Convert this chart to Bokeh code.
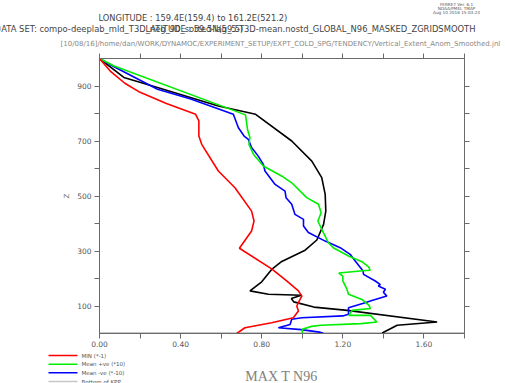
from bokeh.plotting import figure
from bokeh.models import FixedTicker, LinearAxis, PrintfTickFormatter, Range1d
from bokeh.core.properties import value
from bokeh.layouts import column
from bokeh.embed import file_html
from bokeh.resources import INLINE

# ---------------- data ----------------
red_x = [0.0, 0.056, 0.125, 0.20, 0.33, 0.474, 0.49, 0.49, 0.504, 0.586, 0.668, 0.75,
         0.762, 0.75, 0.69, 0.849, 0.923, 0.981, 0.998, 0.989, 0.973, 0.981, 0.956,
         0.849, 0.717, 0.677]
red_z = [1000, 952, 910, 877, 836, 797, 773, 718, 688, 591, 530, 445,
         409, 373, 310, 235, 191, 155, 136, 124, 100, 82, 57,
         39, 21, 0]

green_x = [0.0, 0.072, 0.72, 0.73, 0.742, 0.737, 0.759, 0.808, 0.90, 0.948, 1.022, 1.08,
           1.093, 1.077, 1.104, 1.129, 1.153, 1.228, 1.294, 1.327, 1.335, 1.30, 1.18,
           1.20, 1.20, 1.22, 1.228, 1.294, 1.328, 1.336, 1.246, 1.23, 1.336, 1.368,
           1.29, 1.09, 1.047, 1.0, 1.0]
green_z = [1000, 973, 795, 742, 712, 688, 652, 609, 572, 548, 494, 470,
           439, 409, 367, 330, 312, 282, 261, 242, 230, 228, 220,
           209, 191, 161, 143, 124, 103, 91, 84, 66, 66, 42,
           36, 30, 26, 15, 0]

blue_x = [0.0, 0.072, 0.286, 0.45, 0.66, 0.685, 0.713, 0.734, 0.75, 0.783, 0.808, 0.816,
          0.866, 0.915, 0.92, 0.948, 0.964, 1.006, 1.006, 1.03, 1.113, 1.187, 1.236,
          1.261, 1.30, 1.302, 1.36, 1.385, 1.375, 1.41, 1.40, 1.417, 1.343, 1.31,
          1.228, 1.228, 1.20, 0.998, 0.948, 0.94, 0.882, 0.995, 1.085, 1.105]
blue_z = [1000, 970, 888, 853, 797, 748, 718, 706, 676, 645, 615, 591,
          542, 518, 494, 470, 433, 415, 391, 367, 336, 312, 288,
          264, 227, 215, 191, 178, 173, 161, 150, 136, 120, 112,
          94, 70, 64, 57, 52, 33, 21, 14, 5, 0]

black_x = [0.0, 0.12, 0.29, 0.586, 0.77, 0.948, 1.047, 1.096, 1.113, 1.116, 1.105, 1.072,
           1.014, 0.899, 0.849, 0.80, 0.742, 0.833, 0.995, 0.946, 0.958, 1.057, 1.222,
           1.665, 1.468, 1.394]
black_z = [1000, 931, 894, 827, 797, 700, 627, 567, 506, 445, 397, 340,
           303, 262, 233, 188, 155, 143, 139, 127, 115, 96, 84,
           42, 30, 2]

kpp_x = [0.0, 1.8]
kpp_z = [3, 3]

x_major = [0.0, 0.4, 0.8, 1.2, 1.6]
x_minor = [0.2, 0.6, 1.0, 1.4, 1.8]
y_major = [100, 300, 500, 700, 900]
y_minor = [200, 400, 600, 800]

legend_labels = ["MIN (*-1)", "Mean +ve (*10)", "Mean -ve (*-10)", "Bottom of KPP"]
legend_colors = ["#ff0000", "#00ee00", "#0000ff", "#c8c8c8"]

title_lon = "LONGITUDE : 159.4E(159.4) to 161.2E(521.2)"
title_lat = "LATITUDE : 59.5N(59.5)"
title_ds = "DATA SET: compo-deeplab_mld_T3D_neg_90_sorted-lag_5-T3D-mean.nostd_GLOBAL_N96_MASKED_ZGRIDSMOOTH"
title_jnl = "[10/08/16]/home/dan/WORK/DYNAMOC/EXPERIMENT_SETUP/EXPT_COLD_SPG/TENDENCY/Vertical_Extent_Anom_Smoothed.jnl"
stamp = ["FERRET Ver. 6.1", "NOAA/PMEL TMAP", "Aug 10 2016 15:03:23"]
plot_label = "MAX T N96"

FONT = value("DejaVu Sans")
W = 505
HEAD_H, MAIN_H, FOOT_H = 50, 300, 33


def blank(h, y0):
    f = figure(width=W, height=h, x_range=Range1d(0, W), y_range=Range1d(y0 + h, y0),
               x_axis_type=None, y_axis_type=None, output_backend="svg",
               toolbar_location=None, min_border=0, frame_align=False)
    f.grid.visible = False
    f.outline_line_color = None
    f.background_fill_color = "white"
    f.border_fill_color = "white"
    return f


# ---------------- header (page pixel coordinates) ----------------
head = blank(HEAD_H, 0)
head.text(x=[98], y=[17.5], text=[title_lon], text_font=FONT, text_font_size="8.3px",
          text_color="#444444", text_baseline="middle", text_align="left")
head.text(x=[475], y=[28.5], text=[title_ds], text_font=FONT, text_font_size="8.4px",
          text_color="#444444", text_baseline="middle", text_align="right")
head.text(x=[145], y=[28.5], text=[title_lat], text_font=FONT, text_font_size="8.3px",
          text_color="#444444", text_baseline="middle", text_align="left")
head.text(x=[60], y=[43], text=[title_jnl], text_font=FONT, text_font_size="7px",
          text_color="#888888", text_baseline="middle", text_align="left")
head.text(x=[456, 456, 456], y=[3.7, 8.0, 12.3], text=stamp, text_font=FONT,
          text_font_size="4.2px", text_color="#555555", text_baseline="middle",
          text_align="center")

# ---------------- main plot ----------------
L, R, T = 99, 41, 8
FRAME_H = 275
p = figure(width=W, height=MAIN_H, x_range=(0, 1.8), y_range=(0, 1000),
           output_backend="svg", toolbar_location=None, frame_align=False,
           min_border_left=L, min_border_right=R, min_border_top=T,
           min_border_bottom=MAIN_H - T - FRAME_H)
p.xgrid.visible = False
p.ygrid.visible = False
p.outline_line_color = "#777777"
p.background_fill_color = "white"
p.border_fill_color = "white"

AX = "#6a6a6a"


def style(ax, labels=True):
    ax.axis_line_color = AX
    ax.major_tick_line_color = AX
    ax.minor_tick_line_color = AX
    ax.major_tick_out = 5
    ax.major_tick_in = 0
    ax.minor_tick_out = 5
    ax.minor_tick_in = 0
    ax.major_label_text_color = "#555555"
    ax.major_label_text_font = "DejaVu Sans"
    if labels:
        ax.major_label_text_font_size = "7.5px"
        ax.major_label_standoff = 3
    else:
        ax.major_label_text_font_size = "0px"
        ax.major_label_standoff = 0


p.xaxis.ticker = FixedTicker(ticks=x_major, minor_ticks=x_minor)
p.xaxis.formatter = PrintfTickFormatter(format="%.2f")
p.yaxis.ticker = FixedTicker(ticks=y_major, minor_ticks=y_minor)
style(p.xaxis[0])
style(p.yaxis[0])
p.xaxis.major_label_standoff = 2
p.yaxis.axis_label = "Z"
p.yaxis.axis_label_text_font = "DejaVu Sans"
p.yaxis.axis_label_text_font_style = "normal"
p.yaxis.axis_label_text_font_size = "7px"
p.yaxis.axis_label_text_color = "#777777"
p.yaxis.axis_label_standoff = 3

top = LinearAxis(ticker=FixedTicker(ticks=x_major + x_minor))
style(top, labels=False)
p.add_layout(top, "above")
right = LinearAxis(ticker=FixedTicker(ticks=y_major + y_minor))
style(right, labels=False)
p.add_layout(right, "right")

LW = 1.6
p.line(kpp_x, kpp_z, line_color=legend_colors[3], line_width=1.2)
p.line(black_x, black_z, line_color="black", line_width=LW)
p.line(blue_x, blue_z, line_color=legend_colors[2], line_width=LW)
p.line(green_x, green_z, line_color=legend_colors[1], line_width=LW)
p.line(red_x, red_z, line_color=legend_colors[0], line_width=LW)

# ---------------- footer: legend + plot label (page pixel coordinates) ----------------
foot = blank(FOOT_H, HEAD_H + MAIN_H)
leg_y = [355, 363.7, 372.3, 381]
for yy, c in zip(leg_y, legend_colors):
    foot.line(x=[48, 77], y=[yy, yy], line_color=c, line_width=1.6)
foot.text(x=[81] * 4, y=leg_y, text=legend_labels, text_font=FONT,
          text_font_size="5.5px", text_color="#555555", text_baseline="middle",
          text_align="left")
foot.text(x=[281], y=[376], text=[plot_label], text_font=value("Liberation Serif"),
          text_font_size="14px", text_color="#808080", text_baseline="middle",
          text_align="center")

layout = column(head, p, foot, spacing=0)
open("out.html", "w").write(file_html(layout, INLINE))
